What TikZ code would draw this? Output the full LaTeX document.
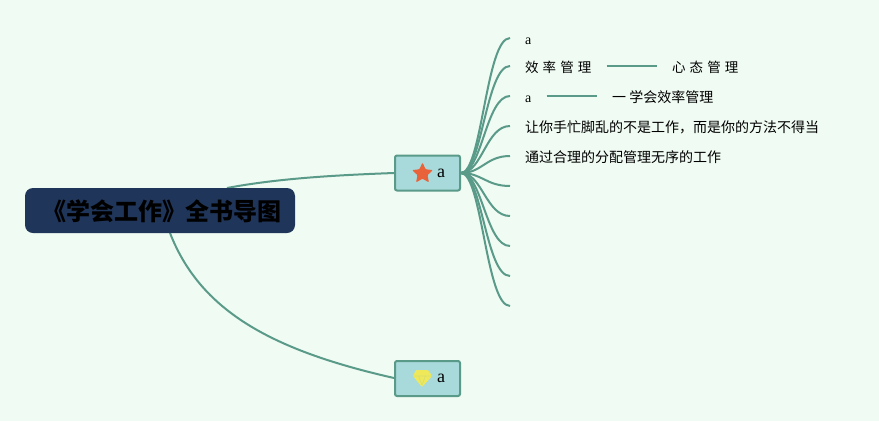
\documentclass[tikz,border=0pt]{standalone}
\usepackage{fontspec}
\usetikzlibrary{shapes.geometric}
\setmainfont{Liberation Serif}
\newfontfamily\cjk{Noto Sans CJK SC}
\newfontfamily\cjkspaced[LetterSpace=30]{Noto Sans CJK SC}
\definecolor{bgc}{HTML}{F0FBF3}
\definecolor{linec}{HTML}{5A9A88}
\definecolor{rootc}{HTML}{1F3559}
\definecolor{boxc}{HTML}{A8DADB}
\definecolor{starc}{HTML}{E8633A}
\definecolor{gemc}{HTML}{EFE95A}
\definecolor{gemd}{HTML}{D8DE70}
\tikzset{
  link/.style={draw=linec,line width=2pt},
  rootbox/.style={fill=rootc,rounded corners=8pt,minimum width=270pt,minimum height=45pt,inner sep=0pt},
  topicbox/.style={draw=linec,fill=boxc,line width=2pt,rounded corners=2pt,minimum width=65pt,minimum height=35pt,inner sep=0pt},
  toplabel/.style={inner sep=0pt,font=\fontsize{18}{18}\selectfont,text=black},
  leaftext/.style={anchor=west,inner sep=0pt,text=black,font=\cjk\fontsize{14}{14}\selectfont},
  spacedtext/.style={anchor=west,inner sep=0pt,text=black,font=\cjkspaced\fontsize{13.5}{14}\selectfont},
  latintext/.style={anchor=west,inner sep=0pt,text=black,font=\fontsize{14}{14}\selectfont},
  staricon/.style={star,star points=5,star point ratio=2.1,fill=starc,inner sep=0pt,minimum size=22pt,rounded corners=1pt},
}
\begin{document}
\begin{tikzpicture}[x=1pt,y=-1pt]
\useasboundingbox[fill=bgc] (0,0) rectangle (879,421);
\foreach \n/\y in {l1/38,l2/66,l3/96,l4/126,l5/156,l6/186,l7/216,l8/246,l9/276,l10/306}{
  \coordinate (\n) at (510,\y);
}
\coordinate (hub) at (461,173);
\coordinate (t1in) at (394,173);
\coordinate (t2in) at (394,378);
\coordinate (rootA) at (227,188);
\coordinate (rootB) at (170,233);
\draw[link] (rootA) .. controls (280,178) and (340,175) .. (t1in);
\draw[link] (rootB) .. controls (200,310) and (270,350) .. (t2in);
\foreach \n/\y in {l1/38,l2/66,l3/96,l4/126,l5/156,l6/186,l7/216,l8/246,l9/276,l10/306}{
  \draw[link] (hub) .. controls (482,173) and (486,\y) .. (\n);
}
\node[rootbox] (root) at (160,210.5) {};
\node[inner sep=0pt,text=black,font=\cjk\bfseries\fontsize{24}{24}\selectfont] (roottext) at (162,211) {《学会工作》全书导图};
\node[topicbox] (t1) at (427.5,173) {};
\node[topicbox] (t2) at (427.5,378.5) {};
\node[staricon] (star) at (422.5,173.5) {};
\node[toplabel] (t1a) at (441,173) {a};
\node[toplabel] (t2a) at (441,378) {a};
\fill[gemc,rounded corners=1pt] (416,370) -- (428,370) -- (432,376) -- (422,387) -- (413,376) -- cycle;
\draw[gemd,line width=.8pt] (414,376) -- (431,376) (418.5,376) -- (422,385) -- (425.5,376);
\node[latintext] (a1) at (525,41) {a};
\node[spacedtext] (s1) at (525,67) {效率管理};
\node[spacedtext] (s2) at (672,67) {心态管理};
\node[latintext] (a2) at (525,99) {a};
\node[leaftext] (s3) at (612,97) {一 学会效率管理};
\node[leaftext] (s4) at (525,127) {让你手忙脚乱的不是工作，而是你的方法不得当};
\node[leaftext] (s5) at (525,157) {通过合理的分配管理无序的工作};
\draw[link] ([xshift=15pt]s1.east |- 0,66) -- ([xshift=-15pt]s2.west |- 0,66);
\draw[link] ([xshift=15pt]a2.east |- 0,96) -- ([xshift=-15pt]s3.west |- 0,96);
\end{tikzpicture}
\end{document}
